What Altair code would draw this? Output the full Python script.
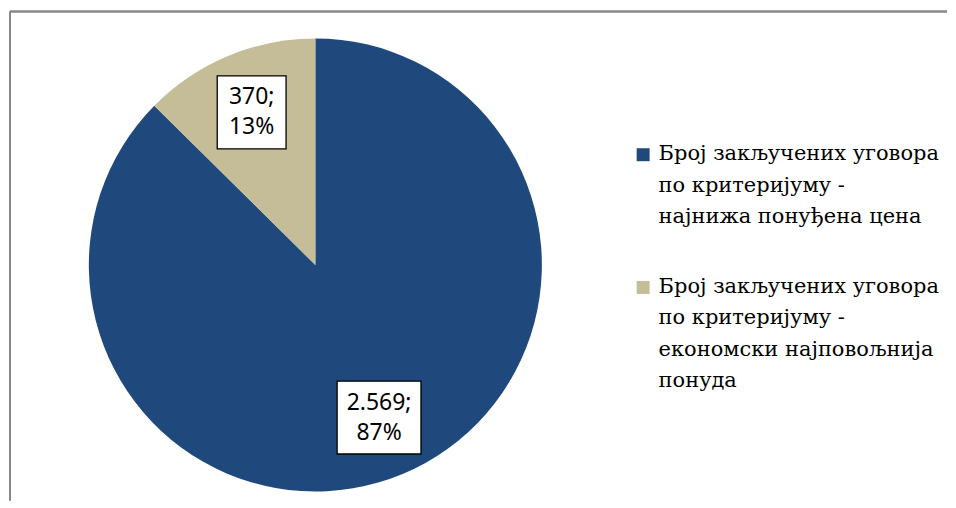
import altair as alt
import pandas as pd
import numpy as np

# ---- data ----
categories = [
    "Број закључених уговора|по критеријуму -|најнижа понуђена цена",
    "Број закључених уговора|по критеријуму -|економски најповољнија|понуда",
]
values = [2569, 370]
colors = ["#1F497D", "#C4BD97"]

# ---- layout constants ----
W, H = 939, 490            # plot area
CX, CY, R = 306, 254, 227  # pie centre (view px) and radius
LABEL_R = 0.73             # label distance as fraction of radius
SERIF = "DejaVu Serif"
LEG_SYM_X, LEG_TEXT_X = 634.5, 650   # legend symbol centre / text start (view px)
LEG_Y0, LEG_STEP = 143, 133          # first legend line centre / item spacing

total = sum(values)
rows = []
cum = 0
for i, (c, v) in enumerate(zip(categories, values)):
    mid = (cum + v / 2) / total * 2 * np.pi
    cum += v
    pct = round(100 * v / total)
    txt = f"{v:,}".replace(",", ".") + ";\n" + f"{pct}%"
    rows.append(dict(category=c, value=v, order=i, cx=0.0, cy=0.0,
                     lx=LABEL_R * np.sin(mid), ly=LABEL_R * np.cos(mid), text=txt))
df = pd.DataFrame(rows)

xs = alt.Scale(domain=[-CX / R, (W - CX) / R], nice=False, zero=False)
ys = alt.Scale(domain=[-(H - CY) / R, CY / R], nice=False, zero=False)
cs = alt.Scale(domain=categories, range=colors)

base = alt.Chart(df)

pie = base.mark_arc(radius=R).encode(
    x=alt.X("cx:Q", scale=xs, axis=None),
    y=alt.Y("cy:Q", scale=ys, axis=None),
    theta=alt.Theta("value:Q", stack=True),
    order=alt.Order("order:Q"),
    color=alt.Color("category:N", scale=cs, legend=None),
)

def box_path(half_w):
    return f"M{-half_w},-1L{half_w},-1L{half_w},1L{-half_w},1Z"

box = base.mark_point(filled=True, fill="white", stroke="black",
                      strokeWidth=1.3, opacity=1, size=73 ** 2).encode(
    x=alt.X("lx:Q", scale=xs, axis=None),
    y=alt.Y("ly:Q", scale=ys, axis=None),
    shape=alt.Shape("category:N",
                    scale=alt.Scale(domain=categories,
                                    range=[box_path(1.151), box_path(0.945)]),
                    legend=None),
)

lab = base.mark_text(font="Noto Sans", fontSize=23, lineBreak="\n", lineHeight=30,
                     dy=-15, color="black", align="center", baseline="middle").encode(
    x=alt.X("lx:Q", scale=xs, axis=None),
    y=alt.Y("ly:Q", scale=ys, axis=None),
    text="text:N",
)

# ---- legend (drawn as marks so the serif font and line breaks are exact) ----
leg_base = base.transform_calculate(
    ly_pix=f"{LEG_Y0} + datum.order * {LEG_STEP}",
    sy_pix=f"{LEG_Y0 + 0.5} + datum.order * {LEG_STEP}",
)
leg_sym = leg_base.mark_square(size=169, opacity=1).encode(
    x=alt.value(LEG_SYM_X),
    y=alt.Y("sy_pix:Q", scale=None, axis=None),
    color=alt.Color("category:N", scale=cs, legend=None),
)
leg_txt = leg_base.mark_text(font=SERIF, fontSize=21, lineBreak="|", lineHeight=31.5,
                             align="left", baseline="middle", color="black").encode(
    x=alt.value(LEG_TEXT_X),
    y=alt.Y("ly_pix:Q", scale=None, axis=None),
    text="category:N",
)

frame_top = base.mark_rule(color="#888888", strokeWidth=2).encode(
    x=alt.value(0), x2=alt.value(W), y=alt.value(0))
frame_left = base.mark_rule(color="#888888", strokeWidth=2).encode(
    x=alt.value(0), y=alt.value(0), y2=alt.value(H))

chart = alt.layer(pie, box, lab, leg_sym, leg_txt, frame_top, frame_left).properties(
    width=W, height=H,
    padding={"left": 1, "top": 2, "right": 0, "bottom": 0},
).resolve_scale(y="independent").configure_view(stroke=None)

chart.save("out.html", embed_options={"renderer": "svg", "actions": False})
